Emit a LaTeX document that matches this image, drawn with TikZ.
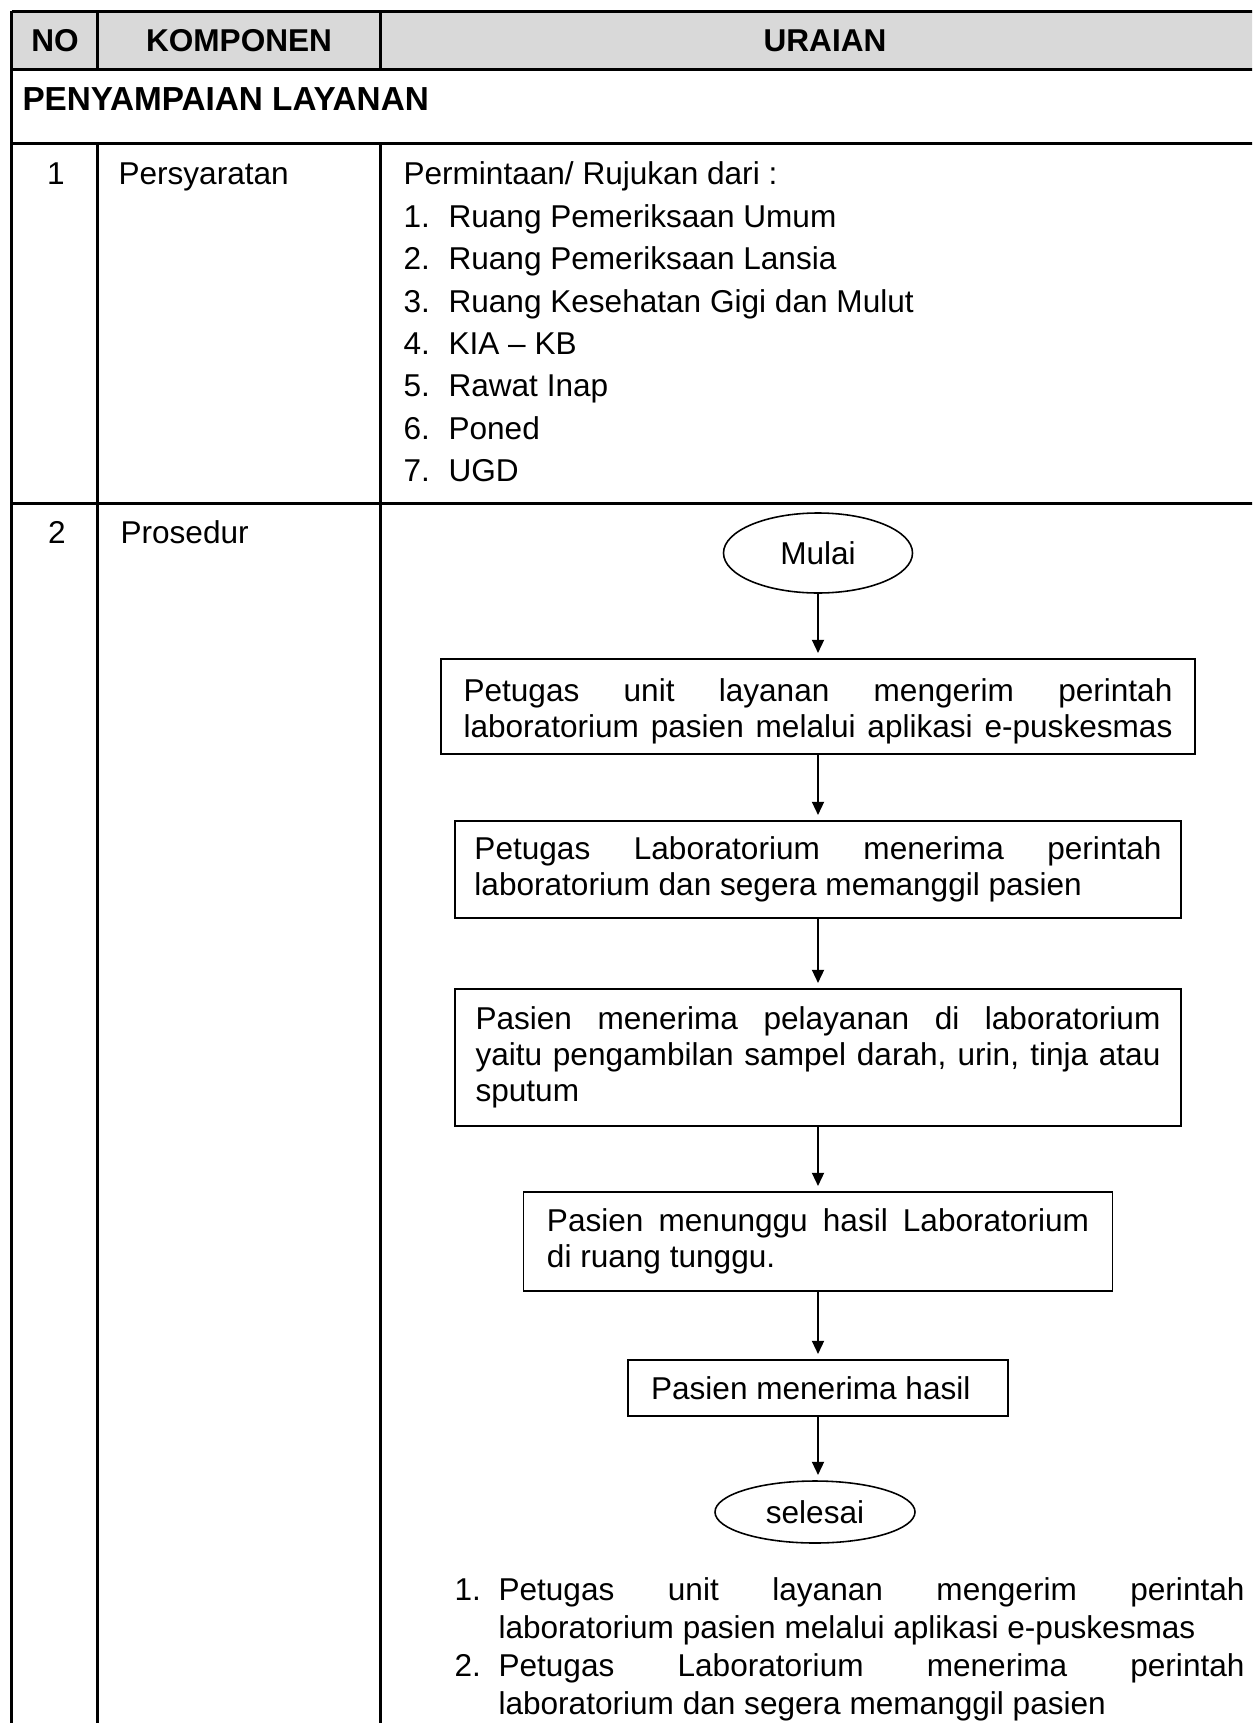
\documentclass[tikz,border=0pt]{standalone}
\usepackage{fontspec}
\setmainfont{Liberation Sans}
\usetikzlibrary{arrows.meta,shapes.geometric}
\definecolor{hdrgray}{HTML}{D9D9D9}
\newcommand{\spreadline}[2]{\makebox[#1][s]{#2}}
\begin{document}
\begin{tikzpicture}[x=0.38pt,y=-0.38pt,
  grid/.style={line width=1pt},
  txt/.style={inner sep=0pt, font=\fontsize{12pt}{13.8pt}\selectfont},
  hdr/.style={inner sep=0pt, font=\fontsize{12pt}{13.8pt}\selectfont\bfseries},
  stepbox/.style={draw, rectangle, line width=0.6pt, inner sep=0pt,
    font=\fontsize{12pt}{13.8pt}\selectfont},
  term/.style={draw, ellipse, line width=0.6pt, inner sep=0pt,
    font=\fontsize{12pt}{13.8pt}\selectfont},
  flow/.style={line width=0.6pt, -{Triangle[length=5pt,width=4.6pt]}, shorten >=2pt}
]
\useasboundingbox (0,0) rectangle (1252,1723);
\clip (0,0) rectangle (1252,1723);
\fill[white] (0,0) rectangle (1252,1723);

% table frame
\fill[hdrgray] (11.7,11.3) rectangle (1272,69.3);
\draw[grid] (11.7,11.3) -- (1272,11.3);
\draw[grid] (11.7,69.3) -- (1272,69.3);
\draw[grid] (11.7,143.3) -- (1272,143.3);
\draw[grid] (11.7,503.3) -- (1272,503.3);
\draw[grid] (11.7,11.3) -- (11.7,1730);
\draw[grid] (97.3,11.3) -- (97.3,69.3);
\draw[grid] (380.3,11.3) -- (380.3,69.3);
\draw[grid] (97.3,143.3) -- (97.3,1730);
\draw[grid] (380.3,143.3) -- (380.3,1730);
\draw[grid] (1270,11.3) -- (1270,1730);

% header
\node[hdr, anchor=base] (hno) at (55,52) {NO};
\node[hdr, anchor=base] (hkomp) at (239,52) {KOMPONEN};
\node[hdr, anchor=base] (hurai) at (825,52) {URAIAN};
\node[hdr, anchor=base west, font=\fontsize{12.65pt}{14pt}\selectfont\bfseries] (sect) at (22,111) {PENYAMPAIAN LAYANAN};

% row 1
\node[txt, anchor=base] (no1) at (56,185) {1};
\node[txt, anchor=base west] (komp1) at (118,185) {Persyaratan};
\node[txt, anchor=base west] (req) at (403,185) {\parbox[t]{300pt}{\fontsize{12pt}{16.1pt}\selectfont
  Permintaan/ Rujukan dari :\\
  \makebox[17.1pt][l]{1.}Ruang Pemeriksaan Umum\\
  \makebox[17.1pt][l]{2.}Ruang Pemeriksaan Lansia\\
  \makebox[17.1pt][l]{3.}Ruang Kesehatan Gigi dan Mulut\\
  \makebox[17.1pt][l]{4.}KIA – KB\\
  \makebox[17.1pt][l]{5.}Rawat Inap\\
  \makebox[17.1pt][l]{6.}Poned\\
  \makebox[17.1pt][l]{7.}UGD}};

% row 2
\node[txt, anchor=base] (no2) at (57,543) {2};
\node[txt, anchor=base west] (komp2) at (120,543) {Prosedur};

% flowchart
\node[term, minimum width=189*0.38pt, minimum height=80*0.38pt] (mulai) at (818,553) {Mulai};
\node[stepbox, minimum width=754*0.38pt, minimum height=95*0.38pt] (b1) at (818,706.5)
  {\parbox{269.4pt}{\rule{0pt}{12.2pt}\spreadline{\linewidth}{Petugas unit layanan mengerim perintah}\\
   \spreadline{\linewidth}{laboratorium pasien melalui aplikasi e-puskesmas}}};
\node[stepbox, minimum width=726*0.38pt, minimum height=97*0.38pt] (b2) at (818,869.5)
  {\parbox{261.1pt}{\spreadline{\linewidth}{Petugas Laboratorium menerima perintah}\\
   laboratorium dan segera memanggil pasien}};
\node[stepbox, minimum width=726*0.38pt, minimum height=137*0.38pt] (b3) at (818,1057.5)
  {\parbox{260.3pt}{\spreadline{\linewidth}{Pasien menerima pelayanan di laboratorium}\\
   \spreadline{\linewidth}{yaitu pengambilan sampel darah, urin, tinja atau}\\
   sputum}};
\node[stepbox, minimum width=589*0.38pt, minimum height=99*0.38pt] (b4) at (818,1241.5)
  {\parbox{206pt}{\spreadline{\linewidth}{Pasien menunggu hasil Laboratorium}\\
   di ruang tunggu.}};
\node[stepbox, minimum width=380*0.38pt, minimum height=56*0.38pt] (b5) at (818,1388)
  {\parbox{126.9pt}{\raggedright Pasien menerima hasil}};
\node[term, minimum width=200*0.38pt, minimum height=62*0.38pt] (selesai) at (815,1512) {selesai};

\draw[flow] (mulai) -- (b1);
\draw[flow] (b1) -- (b2);
\draw[flow] (b2) -- (b3);
\draw[flow] (b3) -- (b4);
\draw[flow] (b4) -- (b5);
\draw[flow] (b5.south) -- (b5.south |- selesai.north);

% numbered description below the flowchart
\node[txt, anchor=base west] (d1n) at (454,1600) {1.};
\node[txt, anchor=base west] (d1) at (498,1600) {\parbox[t]{283.5pt}{\fontsize{12pt}{14.5pt}\selectfont
  \spreadline{\linewidth}{Petugas unit layanan mengerim perintah}\\
  laboratorium pasien melalui aplikasi e-puskesmas}};
\node[txt, anchor=base west] (d2n) at (454,1676.5) {2.};
\node[txt, anchor=base west] (d2) at (498,1676.5) {\parbox[t]{283.5pt}{\fontsize{12pt}{14.5pt}\selectfont
  \spreadline{\linewidth}{Petugas Laboratorium menerima perintah}\\
  laboratorium dan segera memanggil pasien}};
\end{tikzpicture}
\end{document}
